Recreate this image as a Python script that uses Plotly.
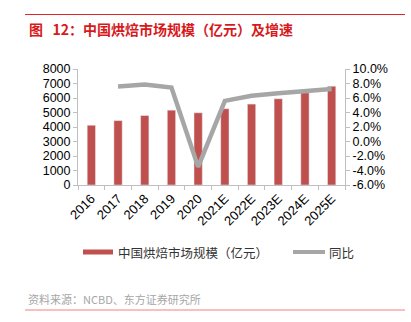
import plotly.graph_objects as go

years = ["2016", "2017", "2018", "2019", "2020", "2021E", "2022E", "2023E", "2024E", "2025E"]
market_size = [4120, 4440, 4790, 5160, 4980, 5260, 5580, 5950, 6370, 6810]
growth_years = ["2017", "2018", "2019", "2020", "2021E", "2022E", "2023E", "2024E", "2025E"]
growth_pct = [7.6, 7.85, 7.45, -3.5, 5.6, 6.3, 6.65, 6.9, 7.25]
left_ticks = [0, 1000, 2000, 3000, 4000, 5000, 6000, 7000, 8000]
right_ticks = [-6, -4, -2, 0, 2, 4, 6, 8, 10]

bar_color = "#C0504D"
line_color = "#A6A6A6"
axis_color = "#BFBFBF"
tick_font = dict(family="Liberation Sans, Arial, sans-serif", size=12.5, color="#000000")
xtick_font = dict(family="Liberation Sans, Arial, sans-serif", size=13, color="#000000")

fig = go.Figure()
fig.add_trace(go.Bar(x=years, y=market_size, marker_color=bar_color, width=0.31,
                     name="中国烘焙市场规模（亿元）", showlegend=False))
fig.add_trace(go.Scatter(x=growth_years, y=growth_pct, mode="lines", yaxis="y2",
                         line=dict(color=line_color, width=4.5), name="同比", showlegend=False))

fig.update_layout(
    width=411, height=322,
    margin=dict(l=78, r=66, t=69, b=137),
    paper_bgcolor="white", plot_bgcolor="white",
    xaxis=dict(type="category", showline=True, linecolor=axis_color, linewidth=1,
               ticks="outside", tickson="boundaries", ticklen=4, tickcolor=axis_color,
               tickangle=-45, tickfont=xtick_font, showgrid=False, zeroline=False),
    yaxis=dict(range=[0, 8000], tickvals=left_ticks, showline=True, linecolor=axis_color,
               ticks="outside", ticklen=4, tickcolor=axis_color, tickfont=tick_font,
               showgrid=False, zeroline=False),
    yaxis2=dict(range=[-6, 10], overlaying="y", side="right", tickvals=right_ticks,
                ticktext=[f"{v:.1f}%" for v in right_ticks], showline=True,
                linecolor=axis_color, ticks="outside", ticklen=4, tickcolor=axis_color,
                tickfont=tick_font, showgrid=False, zeroline=False),
    showlegend=False,
)

# Top red rule and title
fig.add_shape(type="line", xref="paper", yref="paper",
              x0=(25 - 78) / 267, x1=(405 - 78) / 267,
              y0=(185 - 14.5) / 116, y1=(185 - 14.5) / 116,
              line=dict(color="#E0282A", width=1))
fig.add_annotation(text="<b>图\u00a0\u00a0\u00a012：中国烘焙市场规模（亿元）及增速</b>", xref="paper", yref="paper",
                   x=(27 - 78) / 267, y=(185 - 29) / 116, xanchor="left", yanchor="middle",
                   showarrow=False,
                   font=dict(family="Noto Sans CJK SC", size=14, color="#D7191C"))

# Custom legend
ly = (185 - 252) / 116
fig.add_shape(type="rect", xref="paper", yref="paper",
              x0=(83 - 78) / 267, x1=(113 - 78) / 267,
              y0=ly - 2.5 / 116, y1=ly + 2.5 / 116,
              fillcolor=bar_color, line=dict(width=0))
fig.add_annotation(text="中国烘焙市场规模（亿元）", xref="paper", yref="paper",
                   x=(116 - 78) / 267, y=ly, xanchor="left", yanchor="middle", showarrow=False,
                   font=dict(family="Noto Sans CJK SC", size=12.5, color="#333333"))
fig.add_shape(type="line", xref="paper", yref="paper",
              x0=(293 - 78) / 267, x1=(325 - 78) / 267, y0=ly, y1=ly,
              line=dict(color=line_color, width=4))
fig.add_annotation(text="同比", xref="paper", yref="paper",
                   x=(327 - 78) / 267, y=ly, xanchor="left", yanchor="middle", showarrow=False,
                   font=dict(family="Noto Sans CJK SC", size=12.5, color="#333333"))

# Source and bottom rule
fig.add_annotation(text="资料来源：NCBD、东方证券研究所", xref="paper", yref="paper",
                   x=(26 - 78) / 267, y=(185 - 299) / 116, xanchor="left", yanchor="middle",
                   showarrow=False,
                   font=dict(family="Noto Sans CJK SC", size=11, color="#A6A6A6"))
fig.add_shape(type="line", xref="paper", yref="paper",
              x0=(25 - 78) / 267, x1=(405 - 78) / 267,
              y0=(185 - 310) / 116, y1=(185 - 310) / 116,
              line=dict(color="#F08080", width=1))

fig.write_html("out.html")
